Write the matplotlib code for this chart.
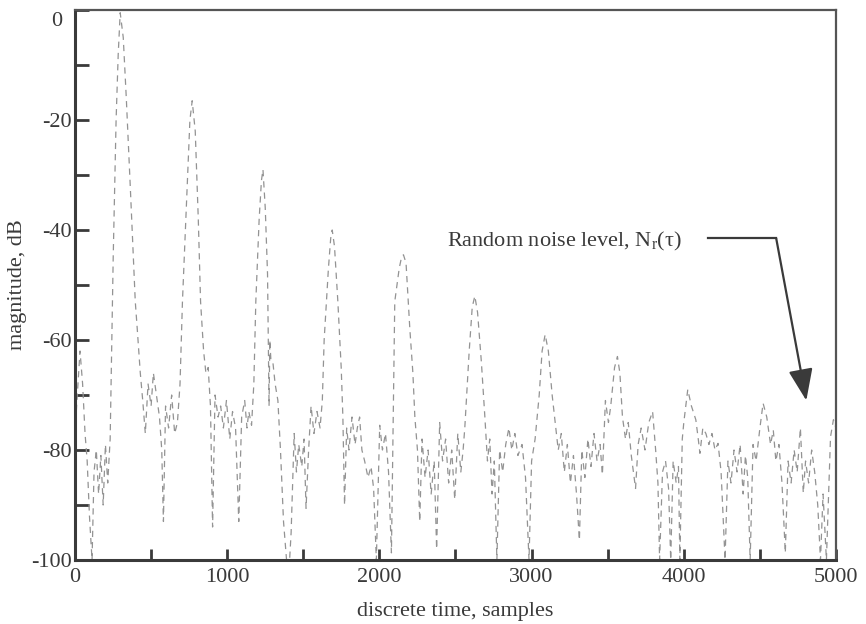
import matplotlib
matplotlib.use("Agg")
import matplotlib.pyplot as plt
from matplotlib.ticker import MultipleLocator, FuncFormatter

# discrete time (samples) and magnitude (dB)
time_samples = [
    0, 15, 33, 50, 66, 80, 95, 112, 125, 140, 155, 170, 185, 200, 215, 231,
    251, 270, 284, 297, 317, 337, 363, 383, 396, 409, 429, 445, 462, 480,
    500, 515, 535, 555, 570, 581, 595, 615, 635, 655, 673, 690, 706, 740,
    755, 770, 790, 810, 825, 845, 860, 875, 890, 904, 920, 940, 957, 975,
    995, 1017, 1035, 1055, 1076, 1095, 1115, 1130, 1142, 1160, 1175, 1188,
    1210, 1225, 1235, 1250, 1265, 1275, 1280, 1287, 1300, 1315, 1333, 1350,
    1370, 1390, 1410, 1420, 1440, 1455, 1470, 1490, 1505, 1518, 1535, 1551,
    1570, 1590, 1610, 1625, 1637, 1665, 1680, 1690, 1705, 1727, 1749, 1760,
    1771, 1785, 1800, 1820, 1840, 1855, 1870, 1885, 1903, 1925, 1945, 1962,
    1980, 2002, 2020, 2040, 2060, 2079, 2101, 2130, 2145, 2158, 2175, 2200,
    2220, 2233, 2250, 2265, 2280, 2300, 2320, 2340, 2360, 2376, 2396, 2415,
    2435, 2455, 2475, 2495, 2515, 2535, 2550, 2561, 2590, 2610, 2627, 2645,
    2670, 2693, 2710, 2725, 2740, 2755, 2772, 2790, 2810, 2830, 2851, 2870,
    2890, 2910, 2937, 2960, 2983, 3000, 3023, 3050, 3069, 3089, 3110, 3135,
    3155, 3175, 3195, 3215, 3235, 3255, 3275, 3295, 3314, 3330, 3350, 3370,
    3390, 3410, 3430, 3450, 3465, 3485, 3505, 3520, 3545, 3564, 3580, 3597,
    3617, 3635, 3655, 3683, 3700, 3720, 3745, 3770, 3795, 3815, 3830, 3841,
    3860, 3880, 3900, 3914, 3930, 3950, 3965, 3974, 3990, 4000, 4026, 4050,
    4079, 4095, 4106, 4125, 4145, 4165, 4185, 4205, 4225, 4245, 4271, 4290,
    4310, 4330, 4350, 4370, 4390, 4405, 4420, 4436, 4455, 4475, 4500, 4521,
    4545, 4570, 4588, 4605, 4625, 4645, 4667, 4685, 4705, 4725, 4745, 4766,
    4785, 4800, 4820, 4840, 4860, 4880, 4898, 4915, 4937, 4955, 4964, 4983,
    5000,
]
magnitude_db = [
    -77, -70, -62, -68, -77, -82, -92, -100, -84, -80, -88, -81, -90, -79, -86, -78,
    -45, -20, -8, -0.5, -5, -16, -32, -45, -53, -58, -66, -71, -77, -68,
    -72, -66, -70, -74, -80, -93, -72, -76, -70, -77, -75, -68, -53, -30,
    -20, -16.5, -22, -38, -53, -62, -66, -65, -72, -94, -70, -74, -72, -76,
    -71, -78, -73, -76, -93, -74, -71, -76, -73, -75.5, -68, -53,
    -38, -31, -29, -36, -48, -72, -60, -63.6, -64, -68, -71, -80,
    -93, -100, -100, -95, -77, -84, -79, -83, -78, -90.6, -80, -72,
    -77, -73, -76, -71, -60, -47, -41.5, -40, -43, -53, -65, -74,
    -90, -76, -80, -74, -79, -76, -74, -80, -82, -85, -83, -87,
    -100, -75.5, -80, -77, -84, -98.7, -53, -47, -45, -44.5, -46, -58,
    -66, -74, -80, -93, -78, -85, -80, -88, -82, -98, -75, -82,
    -78, -86, -80, -89, -77, -84, -80, -76, -62, -54, -52, -55,
    -64, -74, -82, -78, -88, -82, -100, -80, -84, -79, -76, -80,
    -77, -81, -79, -85, -100, -82, -78, -70, -62, -59, -62, -70,
    -75, -80, -77, -84, -79, -86, -81, -88, -96.4, -80, -85, -78,
    -83, -77, -82, -79, -84.5, -71, -75, -72, -65, -63, -66, -74,
    -78, -75, -81, -87, -79, -76, -80, -75, -73, -80, -86, -100,
    -84, -82, -87, -100, -82, -86, -83, -100, -78, -75, -69, -72,
    -74.5, -78, -80.6, -76, -77, -79, -77, -80, -78.8, -84, -100, -82,
    -86, -80, -84, -79, -88, -81, -85, -100, -79, -82, -76, -71.5,
    -74, -79, -76.4, -82, -79, -86, -98.7, -82, -86, -80, -84, -76,
    -87.8, -82, -86, -80, -84, -90, -100, -88, -100, -85, -77.6, -74.5,
    -76,
]

note_text = "Random noise level, N$_\\mathrm{r}$(τ)"
arrow_knee = [(4158, -41.5), (4607, -41.5)]
arrow_tip = (4805, -71)

plt.rcParams["font.family"] = ["Liberation Serif", "DejaVu Serif"]
plt.rcParams["mathtext.fontset"] = "custom"
plt.rcParams["mathtext.rm"] = "Liberation Serif"
plt.rcParams["axes.unicode_minus"] = False

ink = "#3a3a3a"
fsize = 16

fig = plt.figure(figsize=(8.66, 6.24), dpi=100)
ax = fig.add_axes([75 / 866, 64 / 624, 761 / 866, 550 / 624])

ax.plot(time_samples, magnitude_db, color="#939393", lw=0.9,
        linestyle=(0, (5, 4)))

ax.set_xlim(0, 5000)
ax.set_ylim(-100, 0)

ax.xaxis.set_major_locator(MultipleLocator(1000))
ax.xaxis.set_minor_locator(MultipleLocator(500))
ax.yaxis.set_major_locator(MultipleLocator(20))
ax.yaxis.set_minor_locator(MultipleLocator(10))
# the top "0" is drawn by hand below, it sits lower than its tick
ax.yaxis.set_major_formatter(FuncFormatter(lambda v, p: "" if v == 0 else f"{v:.0f}"))
ax.tick_params(which="both", direction="in", colors=ink, width=2,
               labelsize=fsize, top=False, right=False)
ax.tick_params(axis="x", which="both", length=8, pad=6)
ax.tick_params(axis="y", which="both", length=10, pad=2)

for side in ("left", "bottom"):
    ax.spines[side].set_linewidth(2.2)
    ax.spines[side].set_color(ink)
for side in ("top", "right"):
    ax.spines[side].set_linewidth(1.6)
    ax.spines[side].set_color("#555555")

ax.text(-13 / 761, -2.0, "0", transform=ax.get_yaxis_transform(),
        ha="right", va="center", fontsize=fsize, color=ink)

ax.set_xlabel("discrete time, samples", fontsize=fsize, color=ink)
ax.set_ylabel("magnitude, dB", fontsize=fsize, color=ink)
ax.xaxis.set_label_coords(0.5, -42 / 550)
ax.yaxis.set_label_coords(-48 / 761, 0.5)

ax.text(2442, -42, note_text, fontsize=fsize, color=ink, va="center", ha="left")
ax.plot([p[0] for p in arrow_knee], [p[1] for p in arrow_knee], color=ink, lw=1.6)
ax.annotate("", xy=arrow_tip, xytext=arrow_knee[-1],
            arrowprops=dict(arrowstyle="-|>,head_length=1.3,head_width=0.5",
                            color=ink, lw=1.6, mutation_scale=15,
                            shrinkA=0, shrinkB=0))

fig.savefig("out.png", dpi=100, facecolor="white")
